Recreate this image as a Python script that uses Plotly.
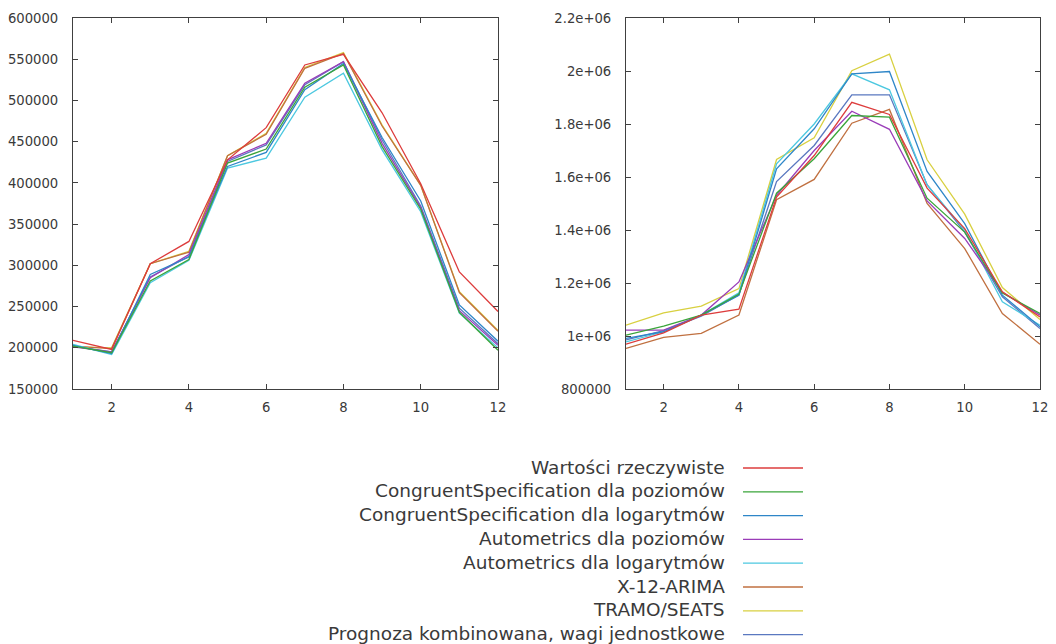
import plotly.graph_objects as go

months = list(range(1, 13))

series_names = [
    "Wartości rzeczywiste",
    "CongruentSpecification dla poziomów",
    "CongruentSpecification dla logarytmów",
    "Autometrics dla poziomów",
    "Autometrics dla logarytmów",
    "X-12-ARIMA",
    "TRAMO/SEATS",
    "Prognoza kombinowana, wagi jednostkowe",
]
series_colors = ["#dd3c3c", "#3aa53a", "#2e86c8", "#9a3cb8",
                 "#4cc8e0", "#c07040", "#d8d040", "#5a78c0"]

# Left panel values
left_real = [209000, 198000, 302000, 329000, 428000, 467000, 543000, 556000, 485000, 399000, 292000, 244000]
left_cs_lev = [202000, 194000, 281000, 307000, 424000, 441000, 516000, 543000, 444000, 368000, 243000, 197000]
left_cs_log = [203000, 193000, 289000, 310000, 420000, 437000, 513000, 545000, 455000, 378000, 252000, 208000]
left_am_lev = [201000, 195000, 285000, 313000, 428000, 448000, 521000, 547000, 448000, 370000, 245000, 203000]
left_am_log = [204000, 192000, 279000, 306000, 418000, 430000, 504000, 533000, 440000, 365000, 242000, 200000]
left_x12 = [202000, 199000, 302000, 316000, 433000, 459000, 539000, 557000, 469000, 397000, 267000, 220000]
left_tramo = [201000, 200000, 302000, 317000, 433000, 460000, 540000, 558000, 470000, 397000, 268000, 221000]
left_comb = [202000, 195000, 286000, 311000, 426000, 446000, 519000, 547000, 452000, 372000, 248000, 205000]

# Right panel values
right_real = [969000, 1012000, 1079000, 1101000, 1524000, 1681000, 1882000, 1836000, 1558000, 1405000, 1167000, 1072000]
right_cs_lev = [1003000, 1037000, 1079000, 1158000, 1539000, 1669000, 1832000, 1826000, 1520000, 1392000, 1162000, 1085000]
right_cs_log = [991000, 1016000, 1079000, 1154000, 1631000, 1782000, 1989000, 1998000, 1621000, 1424000, 1154000, 1035000]
right_am_lev = [1022000, 1022000, 1079000, 1204000, 1531000, 1700000, 1848000, 1780000, 1510000, 1368000, 1165000, 1079000]
right_am_log = [978000, 1016000, 1079000, 1163000, 1650000, 1800000, 1989000, 1929000, 1570000, 1400000, 1129000, 1041000]
right_x12 = [953000, 995000, 1010000, 1079000, 1514000, 1591000, 1803000, 1855000, 1500000, 1330000, 1085000, 969000]
right_tramo = [1041000, 1087000, 1113000, 1179000, 1666000, 1748000, 2001000, 2064000, 1665000, 1460000, 1183000, 1062000]
right_comb = [985000, 1020000, 1075000, 1155000, 1583000, 1719000, 1910000, 1910000, 1571000, 1392000, 1148000, 1028000]

left_data = [left_real, left_cs_lev, left_cs_log, left_am_lev, left_am_log, left_x12, left_tramo, left_comb]
right_data = [right_real, right_cs_lev, right_cs_log, right_am_lev, right_am_log, right_x12, right_tramo, right_comb]

x_ticks = [2, 4, 6, 8, 10, 12]
left_y_ticks = [150000, 200000, 250000, 300000, 350000, 400000, 450000, 500000, 550000, 600000]
right_y_ticks = [800000, 1000000, 1200000, 1400000, 1600000, 1800000, 2000000, 2200000]
right_y_labels = ["800000", "1e+06", "1.2e+06", "1.4e+06", "1.6e+06", "1.8e+06", "2e+06", "2.2e+06"]

# page has an 8px body margin; figure fills the remaining area
OFF = 8
W, H = 1056 - OFF, 644 - OFF


def px(xp):
    return (xp - OFF) / W


def py(yp):
    return 1 - (yp - OFF) / H


FONT = "DejaVu Sans"
TXT = "#3a3a3a"
AX = "#404040"

fig = go.Figure()
# draw in reverse order so the first series is on top
order = list(range(len(series_names)))[::-1]
for i in order:
    fig.add_trace(go.Scatter(x=months, y=left_data[i], mode="lines", name=series_names[i],
                             line=dict(color=series_colors[i], width=1.3),
                             xaxis="x", yaxis="y", showlegend=False))
for i in order:
    fig.add_trace(go.Scatter(x=months, y=right_data[i], mode="lines", name=series_names[i],
                             line=dict(color=series_colors[i], width=1.3),
                             xaxis="x2", yaxis="y2", showlegend=False))

axis_common = dict(showline=True, linecolor=AX, linewidth=1.2, mirror="ticks",
                   ticks="inside", ticklen=5, tickcolor=AX, tickwidth=1,
                   showgrid=False, zeroline=False, automargin=False,
                   tickfont=dict(family=FONT, size=13.2, color=TXT))

fig.update_layout(
    width=W, height=H,
    margin=dict(l=0, r=0, t=0, b=0),
    paper_bgcolor="white", plot_bgcolor="white",
    xaxis=dict(domain=[px(73), px(498)], range=[1, 12], tickvals=x_ticks,
               anchor="y", ticklabelstandoff=6, **axis_common),
    yaxis=dict(domain=[py(389), py(18)], range=[150000, 600000], tickvals=left_y_ticks,
               ticktext=[str(v) for v in left_y_ticks], anchor="x",
               ticklabelstandoff=11, **axis_common),
    xaxis2=dict(domain=[px(626), px(1040)], range=[1, 12], tickvals=x_ticks,
                anchor="y2", ticklabelstandoff=6, **axis_common),
    yaxis2=dict(domain=[py(389), py(18)], range=[800000, 2200000], tickvals=right_y_ticks,
                ticktext=right_y_labels, anchor="x2", ticklabelstandoff=11, **axis_common),
)

# Legend drawn manually: text right-aligned, sample line to the right
legend_top = 468
legend_step = 23.8
for k, (name, col) in enumerate(zip(series_names, series_colors)):
    yl = legend_top + k * legend_step
    fig.add_annotation(x=px(727), y=py(yl - 1), xref="paper", yref="paper", text=name,
                       showarrow=False, xanchor="right", yanchor="middle",
                       font=dict(family=FONT, size=18.5, color=TXT))
    fig.add_shape(type="line", xref="paper", yref="paper",
                  x0=px(743), x1=px(803), y0=py(yl), y1=py(yl),
                  line=dict(color=col, width=1.3))

fig.write_html("out.html")
